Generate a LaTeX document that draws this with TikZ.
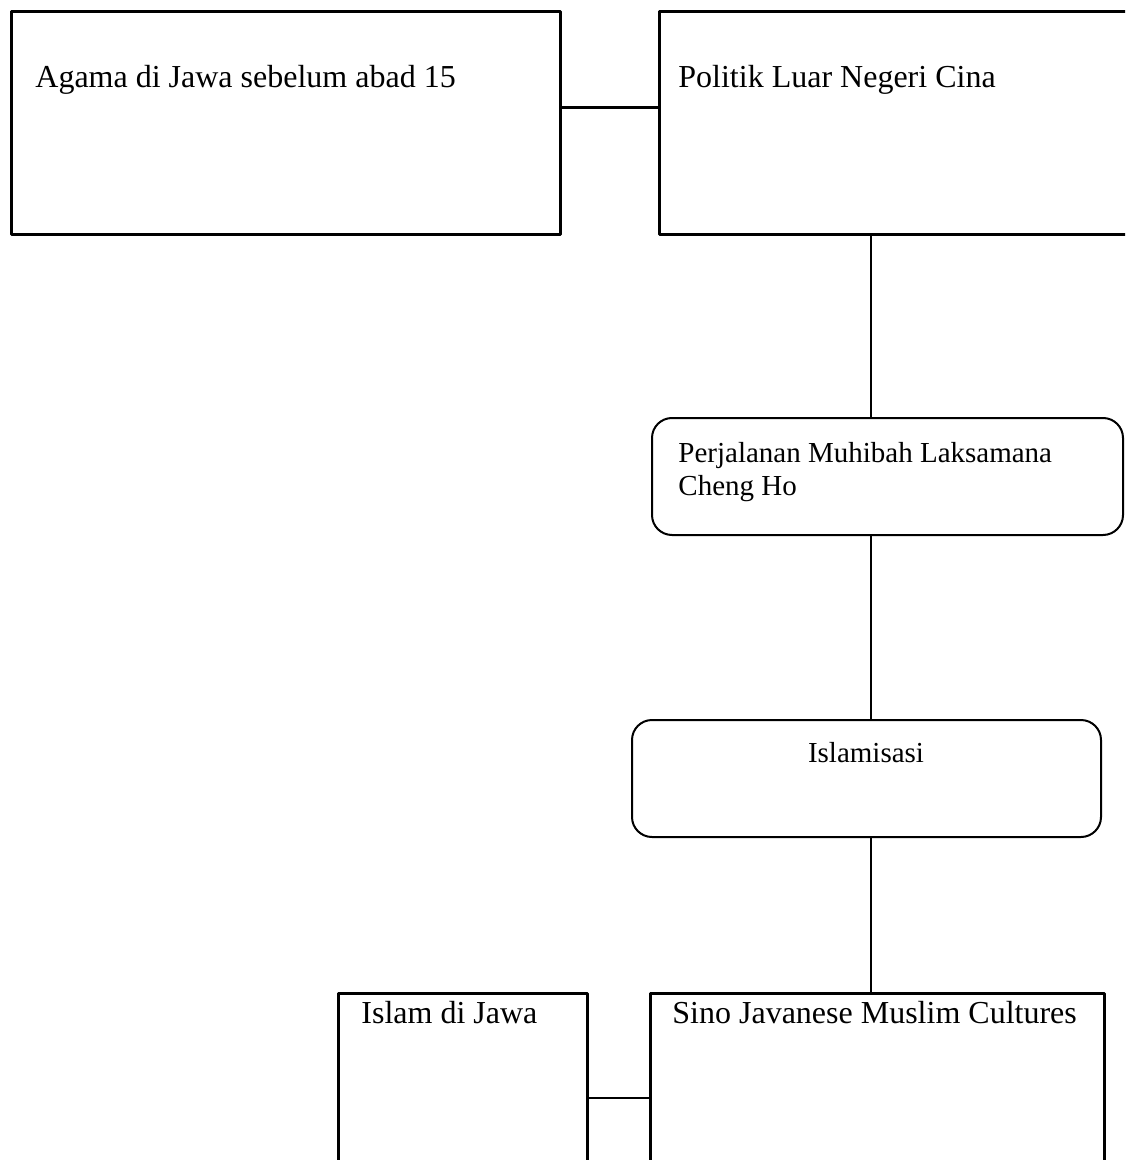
\documentclass[tikz,border=0pt]{standalone}
\usepackage{fontspec}
\setmainfont{Liberation Serif}
\begin{document}
\begin{tikzpicture}[x=.5pt, y=-.5pt, font=\fontsize{16}{17}\selectfont, line join=round,
		kotak/.style={draw, line width=1.5pt, inner sep=0pt, anchor=north west},
		bulat/.style={draw, line width=1pt, rounded corners=10pt, inner sep=0pt, anchor=north west},
		teks/.style={inner sep=0pt, align=left},
		kecil/.style={font=\fontsize{14.5}{16.5}\selectfont}]
		\useasboundingbox (0,0) rectangle (1125,1160);
		\clip (0,0) rectangle (1125,1160);
		% kotak-kotak
		\node[kotak, minimum width=549*.5pt, minimum height=223*.5pt] (agama) at (10,10) {};
		\node[kotak, minimum width=480*.5pt, minimum height=223*.5pt] (politik) at (658,10) {};
		\node[bulat, minimum width=471*.5pt, minimum height=117*.5pt] (chengho) at (651,417) {};
		\node[bulat, minimum width=469*.5pt, minimum height=117*.5pt] (islamisasi) at (631,719) {};
		\node[kotak, minimum width=249*.5pt, minimum height=208*.5pt] (jawa) at (337,992) {};
		\node[kotak, minimum width=454*.5pt, minimum height=208*.5pt] (sino) at (649,992) {};
		% teks
		\node[teks, anchor=base west] (tAgama) at (35,88) {Agama di Jawa sebelum abad 15};
		\node[teks, anchor=base west] (tPolitik) at (678,88) {Politik Luar Negeri Cina};
		\node[teks, kecil, anchor=north west] (tChengho) at (678,442) {Perjalanan Muhibah Laksamana\\Cheng Ho};
		\node[teks, kecil, anchor=base] (tIslamisasi) at (866,762) {Islamisasi};
		\node[teks, anchor=base west] (tJawa) at (361,1023) {Islam di Jawa};
		\node[teks, anchor=base west] (tSino) at (672,1023) {Sino Javanese Muslim Cultures};
		% garis
		\coordinate (poros) at (871,0);
		\draw[line width=1.5pt] ([yshift=7.75pt]agama.east) -- ([yshift=7.75pt]politik.west);
		\foreach \a/\b in {politik/chengho, chengho/islamisasi, islamisasi/sino}
			\draw[line width=.75pt] (poros |- \a.south) -- (poros |- \b.north);
		\draw[line width=1pt] (jawa.east) -- (sino.west);
	\end{tikzpicture}
\end{document}
